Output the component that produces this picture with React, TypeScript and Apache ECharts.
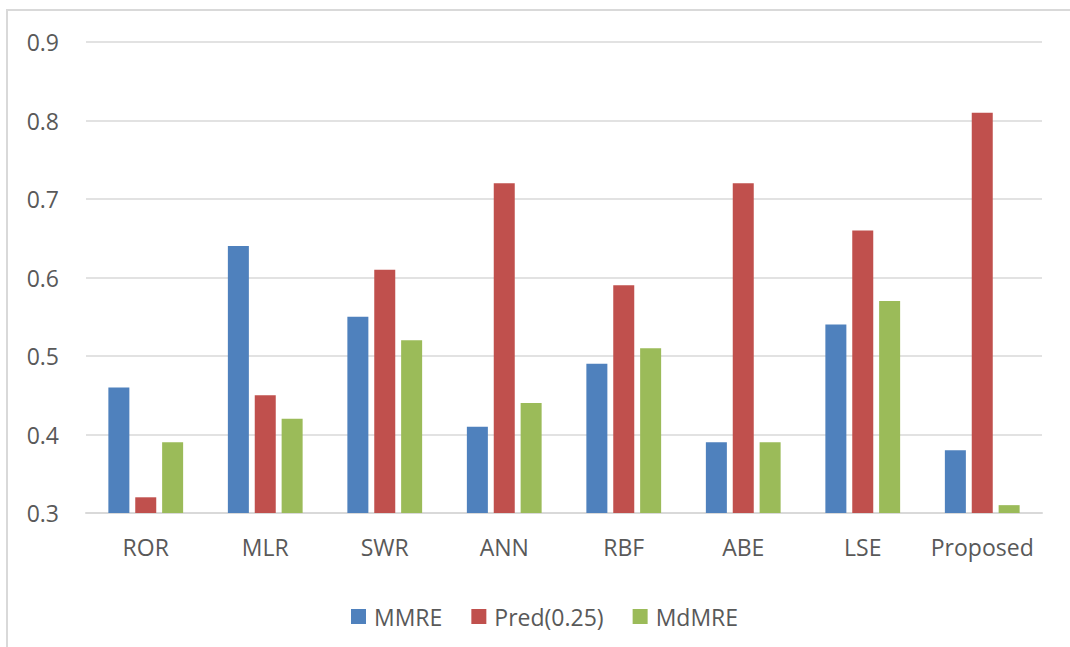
import React, { useEffect, useRef } from "react";
import * as echarts from "echarts";

const categories = ["ROR", "MLR", "SWR", "ANN", "RBF", "ABE", "LSE", "Proposed"];
const mmre = [0.46, 0.64, 0.55, 0.41, 0.49, 0.39, 0.54, 0.38];
const pred25 = [0.32, 0.45, 0.61, 0.72, 0.59, 0.72, 0.66, 0.81];
const mdmre = [0.39, 0.42, 0.52, 0.44, 0.51, 0.39, 0.57, 0.31];

const FONT = "'Open Sans', sans-serif";
const TEXT = "#595959";
const FS = 23;

export default function App() {
  const ref = useRef<HTMLDivElement>(null);
  useEffect(() => {
    if (!ref.current) return;
    const chart = echarts.init(ref.current, null, { renderer: "svg" });
    const mk = (name: string, data: number[], color: string) => ({
      name,
      type: "bar",
      data,
      barWidth: 21,
      barGap: "28%",
      itemStyle: { color },
    });
    chart.setOption({
      animation: false,
      backgroundColor: "#ffffff",
      textStyle: { fontFamily: FONT },
      graphic: [
        {
          type: "rect",
          shape: { x: 7, y: 10, width: 1200, height: 800 },
          style: { fill: "none", stroke: "#D9D9D9", lineWidth: 2 },
          silent: true,
        },
      ],
      grid: { left: 86, right: 28, top: 42, bottom: 134 },
      legend: {
        left: 346,
        top: 600,
        icon: "rect",
        itemWidth: 15,
        itemHeight: 15,
        itemGap: 29,
        textStyle: { color: TEXT, fontSize: FS, fontFamily: FONT, padding: [0, 0, 0, 3] },
        data: ["MMRE", "Pred(0.25)", "MdMRE"],
      },
      xAxis: {
        type: "category",
        data: categories,
        axisLine: { lineStyle: { color: "#D9D9D9", width: 2 } },
        axisTick: { show: false },
        axisLabel: { color: TEXT, fontSize: FS, fontFamily: FONT, margin: 22, interval: 0 },
      },
      yAxis: {
        type: "value",
        min: 0.3,
        max: 0.9,
        interval: 0.1,
        axisLine: { show: false },
        axisTick: { show: false },
        splitLine: { lineStyle: { color: "#D9D9D9", width: 1.5 } },
        axisLabel: {
          color: TEXT,
          fontSize: FS,
          fontFamily: FONT,
          margin: 27,
          formatter: (v: number) => (Math.round(v * 10) / 10).toString(),
        },
      },
      series: [
        mk("MMRE", mmre, "#4F81BD"),
        mk("Pred(0.25)", pred25, "#C0504D"),
        mk("MdMRE", mdmre, "#9BBB59"),
      ],
    });
    return () => chart.dispose();
  }, []);
  return (
    <div
      ref={ref}
      style={{ position: "absolute", left: 0, top: 0, width: 1070, height: 647 }}
    />
  );
}
